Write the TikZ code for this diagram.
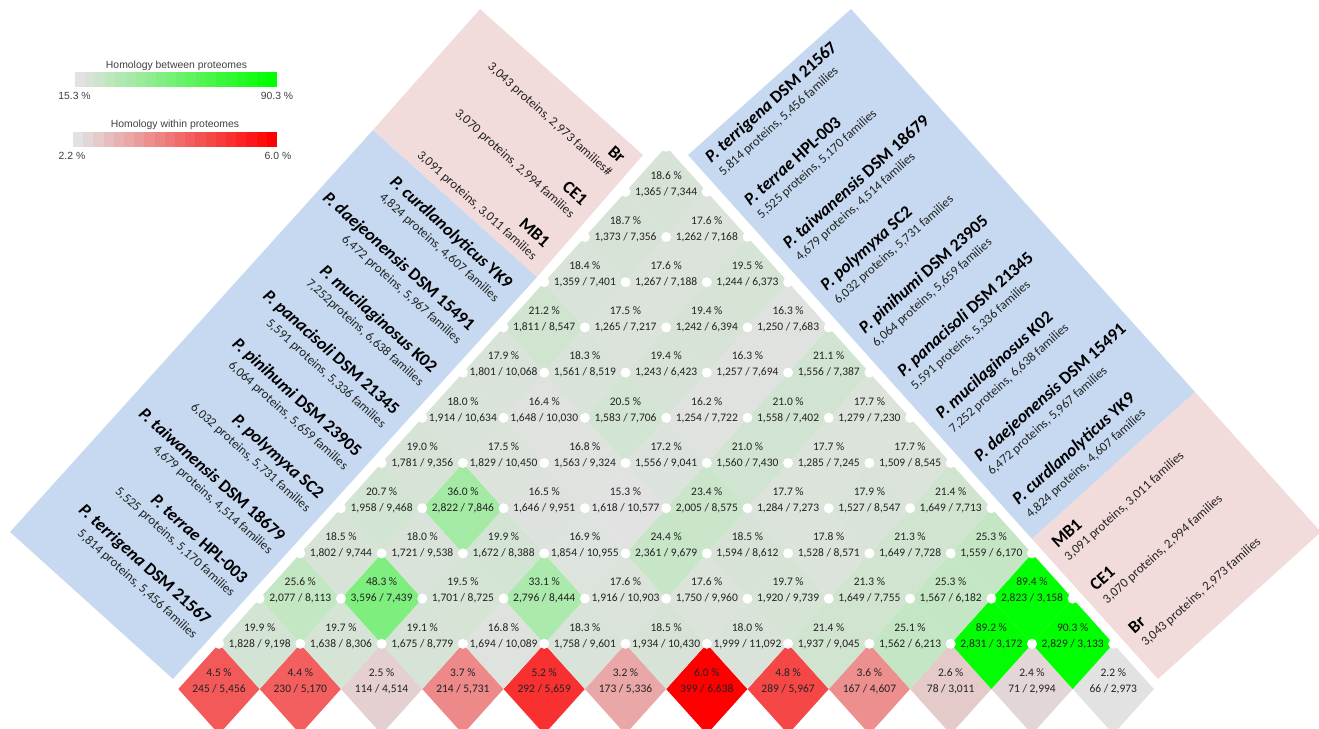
\documentclass[tikz,border=0pt]{standalone}
\usepackage{fontspec}
\setmainfont{Carlito}
\newfontfamily\legfont{Liberation Sans}
\definecolor{lg}{RGB}{226,226,226}
\definecolor{bandblue}{RGB}{198,217,241}
\definecolor{bandpink}{RGB}{242,220,219}
\definecolor{txt}{RGB}{35,35,35}
\definecolor{legtxt}{RGB}{64,64,64}
\tikzset{
  celltext/.style={font=\fontsize{11.5}{12}\selectfont, text=txt, inner sep=0pt},
  spname/.style={font=\fontsize{17.5}{19}\selectfont\bfseries, text=black, inner sep=0pt},
  spnum/.style={font=\fontsize{13}{15}\selectfont, text=txt, inner sep=0pt},
  legtext/.style={font=\legfont\fontsize{10.4}{12}\selectfont, text=legtxt, inner sep=0pt},
  hole/.style={fill=white},
}
% green row: #1 row index, #2 list pct/num/den
\newcommand{\grow}[2]{%
  \foreach \pv/\na/\nb [count=\i from 0] in {#2} {
    \pgfmathsetmacro\cx{219+81.3*(\i+#1/2)}
    \pgfmathsetmacro\cy{689-45.2*#1}
    \pgfmathsetmacro\tt{max(0,min(100,(\pv-15.3)/75*100))}
    \fill[green!\tt!lg] (\cx-40.65,\cy) -- (\cx,\cy-45.2) -- (\cx+40.65,\cy) -- (\cx,\cy+45.2) -- cycle;
    \node[celltext] (p#1-\i) at (\cx,\cy-16.5) {\pv{} \%};
    \node[celltext] (n#1-\i) at (\cx,\cy) {\na{} / \nb};
  }%
}
\newcommand{\rrow}[1]{%
  \foreach \pv/\na/\nb [count=\i from 0] in {#1} {
    \pgfmathsetmacro\cx{219+81.3*\i}
    \pgfmathsetmacro\cy{689}
    \pgfmathsetmacro\tt{max(0,min(100,(\pv-2.2)/3.8*100))}
    \fill[red!\tt!lg] (\cx-40.65,\cy) -- (\cx,\cy-45.2) -- (\cx+40.65,\cy) -- (\cx,\cy+45.2) -- cycle;
    \node[celltext] (p0-\i) at (\cx,\cy-16.5) {\pv{} \%};
    \node[celltext] (n0-\i) at (\cx,\cy) {\na{} / \nb};
  }%
}
\begin{document}
\begin{tikzpicture}[x=1pt,y=-1pt]
\useasboundingbox (0,0) rectangle (1319,728);
\clip (0,0) rectangle (1319,728);

% ---------- legend ----------
\node[legtext] (lg1) at (176.5,66) {Homology between proteomes};
\foreach \k in {0,...,19} {
  \pgfmathsetmacro\tt{\k*100/19}
  \fill[green!\tt!lg] ({75+\k*10.1},72) rectangle ({75+(\k+1)*10.1+0.2},87);
}
\node[legtext] (lg1a) at (74.5,95.5) {15.3 \%};
\node[legtext] (lg1b) at (277,95.5) {90.3 \%};
\node[legtext] (lg2) at (175,125) {Homology within proteomes};
\foreach \k in {0,...,19} {
  \pgfmathsetmacro\tt{\k*100/19}
  \fill[red!\tt!lg] ({73+\k*10.2},132) rectangle ({73+(\k+1)*10.2+0.2},147);
}
\node[legtext] (lg2a) at (72,155.5) {2.2 \%};
\node[legtext] (lg2b) at (278,155.5) {6.0 \%};

% ---------- bands ----------
\fill[bandblue] (10,532) -- (173,679) -- (537,277) -- (373,130) -- cycle;
\fill[bandpink] (373,130) -- (537,277) -- (643,155) -- (480,9) -- cycle;
\fill[bandblue] (851,9) -- (688,155) -- (1032,539) -- (1195,392) -- cycle;
\fill[bandpink] (1195,392) -- (1032,539) -- (1158,679) -- (1321,532) -- cycle;

% ---------- matrix ----------
\rrow{4.5/245/{5,456}, 4.4/230/{5,170}, 2.5/114/{4,514}, 3.7/214/{5,731}, 5.2/292/{5,659}, 3.2/173/{5,336}, 6.0/399/{6,638}, 4.8/289/{5,967}, 3.6/167/{4,607}, 2.6/78/{3,011}, 2.4/71/{2,994}, 2.2/66/{2,973}}
\grow{1}{19.9/{1,828}/{9,198}, 19.7/{1,638}/{8,306}, 19.1/{1,675}/{8,779}, 16.8/{1,694}/{10,089}, 18.3/{1,758}/{9,601}, 18.5/{1,934}/{10,430}, 18.0/{1,999}/{11,092}, 21.4/{1,937}/{9,045}, 25.1/{1,562}/{6,213}, 89.2/{2,831}/{3,172}, 90.3/{2,829}/{3,133}}
\grow{2}{25.6/{2,077}/{8,113}, 48.3/{3,596}/{7,439}, 19.5/{1,701}/{8,725}, 33.1/{2,796}/{8,444}, 17.6/{1,916}/{10,903}, 17.6/{1,750}/{9,960}, 19.7/{1,920}/{9,739}, 21.3/{1,649}/{7,755}, 25.3/{1,567}/{6,182}, 89.4/{2,823}/{3,158}}
\grow{3}{18.5/{1,802}/{9,744}, 18.0/{1,721}/{9,538}, 19.9/{1,672}/{8,388}, 16.9/{1,854}/{10,955}, 24.4/{2,361}/{9,679}, 18.5/{1,594}/{8,612}, 17.8/{1,528}/{8,571}, 21.3/{1,649}/{7,728}, 25.3/{1,559}/{6,170}}
\grow{4}{20.7/{1,958}/{9,468}, 36.0/{2,822}/{7,846}, 16.5/{1,646}/{9,951}, 15.3/{1,618}/{10,577}, 23.4/{2,005}/{8,575}, 17.7/{1,284}/{7,273}, 17.9/{1,527}/{8,547}, 21.4/{1,649}/{7,713}}
\grow{5}{19.0/{1,781}/{9,356}, 17.5/{1,829}/{10,450}, 16.8/{1,563}/{9,324}, 17.2/{1,556}/{9,041}, 21.0/{1,560}/{7,430}, 17.7/{1,285}/{7,245}, 17.7/{1,509}/{8,545}}
\grow{6}{18.0/{1,914}/{10,634}, 16.4/{1,648}/{10,030}, 20.5/{1,583}/{7,706}, 16.2/{1,254}/{7,722}, 21.0/{1,558}/{7,402}, 17.7/{1,279}/{7,230}}
\grow{7}{17.9/{1,801}/{10,068}, 18.3/{1,561}/{8,519}, 19.4/{1,243}/{6,423}, 16.3/{1,257}/{7,694}, 21.1/{1,556}/{7,387}}
\grow{8}{21.2/{1,811}/{8,547}, 17.5/{1,265}/{7,217}, 19.4/{1,242}/{6,394}, 16.3/{1,250}/{7,683}}
\grow{9}{18.4/{1,359}/{7,401}, 17.6/{1,267}/{7,188}, 19.5/{1,244}/{6,373}}
\grow{10}{18.7/{1,373}/{7,356}, 17.6/{1,262}/{7,168}}
\grow{11}{18.6/{1,365}/{7,344}}

% white dots at horizontal vertices
\foreach \r in {1,...,11} {
  \pgfmathtruncatemacro\nn{12-\r}
  \foreach \j in {0,...,\nn} {
    \fill[hole] ({219+81.3*(\j+(\r-1)/2)},{689-45.2*\r}) circle (5);
  }
}
\fill[hole] (666,146.8) circle (5);

% ---------- left band labels ----------
\foreach \nm/\nu [count=\j from 0] in {
  {\textit{P.\ terrigena} DSM 21567}/{5,814 proteins, 5,456 families},
  {\textit{P.\ terrae} HPL-003}/{5,525 proteins, 5,170 families},
  {\textit{P.\ taiwanensis} DSM 18679}/{4,679 proteins, 4,514 families},
  {\textit{P.\ polymyxa} SC2}/{6,032 proteins, 5,731 families},
  {\textit{P.\ pinihumi} DSM 23905}/{6,064 proteins, 5,659 families},
  {\textit{P.\ panacisoli} DSM 21345}/{5,591 proteins, 5,336 families},
  {\textit{P.\ mucilaginosus} K02}/{7,252proteins, 6,638 families},
  {\textit{P.\ daejeonensis} DSM 15491}/{6,472 proteins, 5,967 families},
  {\textit{P.\ curdlanolyticus} YK9}/{4,824 proteins, 4,607 families},
  {MB1}/{3,091 proteins, 3,011 families},
  {CE1}/{3,070 proteins, 2,994 families},
  {Br}/{3,043 proteins, 2,973 families\#}} {
  \pgfmathsetmacro\w{-323+56.5*\j}
  \pgfmathsetmacro\lx{423.5+0.668*\w}
  \pgfmathsetmacro\ly{381.9-0.744*\w}
  \node[spname, anchor=east, rotate=-42] (ln\j) at (\lx,\ly) {\nm};
  \node[spnum, anchor=east, rotate=-42] (lc\j) at (\lx-12.7,\ly+14.1) {\nu};
}

% ---------- right band labels ----------
\foreach \nm/\nu [count=\k from 0] in {
  {\textit{P.\ terrigena} DSM 21567}/{5,814 proteins, 5,456 families},
  {\textit{P.\ terrae} HPL-003}/{5,525 proteins, 5,170 families},
  {\textit{P.\ taiwanensis} DSM 18679}/{4,679 proteins, 4,514 families},
  {\textit{P.\ polymyxa} SC2}/{6,032 proteins, 5,731 families},
  {\textit{P.\ pinihumi} DSM 23905}/{6,064 proteins, 5,659 families},
  {\textit{P.\ panacisoli} DSM 21345}/{5,591 proteins, 5,336 families},
  {\textit{P.\ mucilaginosus} K02}/{7,252 proteins, 6,638 families},
  {\textit{P.\ daejeonensis} DSM 15491}/{6,472 proteins, 5,967 families},
  {\textit{P.\ curdlanolyticus} YK9}/{4,824 proteins, 4,607 families},
  {MB1}/{3,091 proteins, 3,011 families},
  {CE1}/{3,070 proteins, 2,994 families},
  {Br}/{3,043 proteins, 2,973 families}} {
  \pgfmathsetmacro\w{298.5-57.5*\k}
  \pgfmathsetmacro\rx{1331-(423.5+0.668*\w)}
  \pgfmathsetmacro\ry{381.9-0.744*\w}
  \node[spname, anchor=west, rotate=42] (rn\k) at (\rx,\ry) {\nm};
  \node[spnum, anchor=west, rotate=42] (rc\k) at (\rx+12.7,\ry+14.1) {\nu};
}
\end{tikzpicture}
\end{document}
